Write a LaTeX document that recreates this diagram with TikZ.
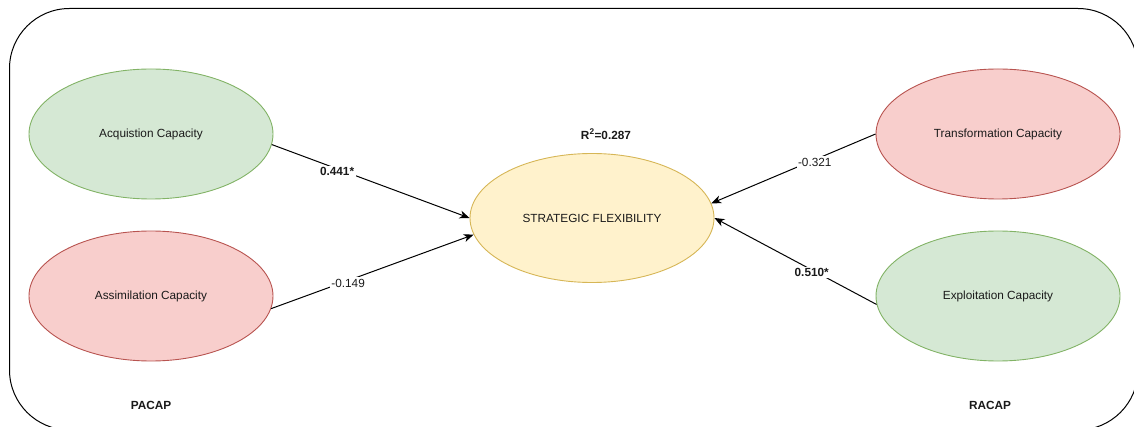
\documentclass[tikz,border=0pt]{standalone}
\usepackage{fontspec}
\setmainfont{Liberation Sans}
\usetikzlibrary{shapes.geometric,arrows.meta}
\definecolor{greenfill}{HTML}{D5E8D4}
\definecolor{greenline}{HTML}{82B366}
\definecolor{redfill}{HTML}{F8CECC}
\definecolor{redline}{HTML}{B85450}
\definecolor{yellowfill}{HTML}{FFF2CC}
\definecolor{yellowline}{HTML}{D6B656}
\definecolor{ink}{HTML}{1A1A1A}
\begin{document}
\begin{tikzpicture}[x=1pt,y=-1pt,
  construct/.style={ellipse,draw,line width=0.9pt,inner sep=0pt,
    minimum width=244pt,minimum height=130pt,text=ink,
    font=\fontsize{11.8}{14}\selectfont},
  good/.style={construct,fill=greenfill,draw=greenline},
  weak/.style={construct,fill=redfill,draw=redline},
  target/.style={construct,fill=yellowfill,draw=yellowline,minimum height=129pt},
  path/.style={draw=black,line width=1pt,
    -{Stealth[length=10pt,width=8pt,inset=3pt]}},
  coef/.style={fill=white,inner sep=1.5pt,text=ink,yshift=-2.5pt,
    font=\fontsize{11.8}{14}\selectfont},
  groupname/.style={text=ink,font=\fontsize{11.8}{14}\selectfont\bfseries}]
\useasboundingbox (0,0) rectangle (1134,427);
\begin{scope}
  \clip (0,0) rectangle (1134,427);
  \draw[line width=1pt,rounded corners=60pt] (9.5,8.5) rectangle (1138,430);
\end{scope}

% latent constructs
\node[good]   (acq) at (151,134) {Acquistion Capacity};
\node[weak]   (ass) at (151,296) {Assimilation Capacity};
\node[weak]   (tra) at (998,134) {Transformation Capacity};
\node[good]   (exp) at (998,296) {Exploitation Capacity};
\node[target] (sf)  at (592,218) {STRATEGIC FLEXIBILITY};

\node[groupname] (r2) at (606,134) {R\textsuperscript{2}=0.287};
\node[groupname] (pacap) at (151,405) {PACAP};
\node[groupname] (racap) at (990,405) {RACAP};

% path coefficients
\draw[path] (acq.-5) -- node[coef,pos=0.33]{\bfseries 0.441*} (sf.180);
\draw[path] (ass.-6) -- node[coef,pos=0.38]{-0.149} (sf.188);
\draw[path] (tra.180) -- node[coef,pos=0.37]{-0.321} (sf.7);
\draw[path] (exp.184) -- node[coef,pos=0.40]{\bfseries 0.510*} (sf.0);
\end{tikzpicture}
\end{document}
